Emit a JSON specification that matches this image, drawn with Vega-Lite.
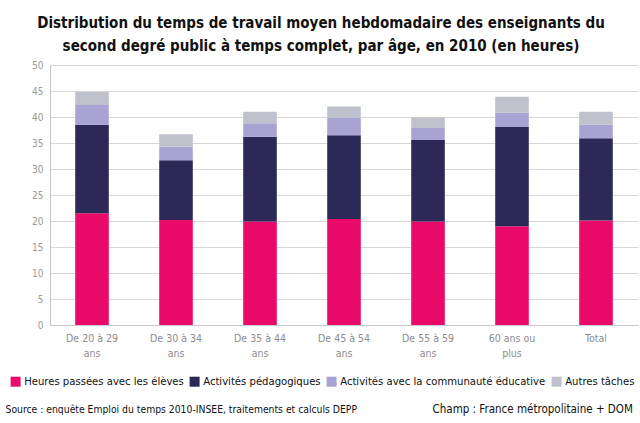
{
  "$schema": "https://vega.github.io/schema/vega-lite/v6.json",
  "autosize": "none",
  "width": 588,
  "height": 260,
  "padding": {"left": 50, "top": 65, "right": 2, "bottom": 98},
  "background": "white",
  "title": {
    "text": ["Distribution du temps de travail moyen hebdomadaire des enseignants du", "second degré public à temps complet, par âge, en 2010 (en heures)"],
    "anchor": "middle",
    "frame": "group",
    "dx": -23,
    "offset": 6,
    "fontSize": 15,
    "font": "DejaVu Sans Condensed, DejaVu Sans, sans-serif",
    "fontWeight": "bold",
    "color": "#111111",
    "lineHeight": 23
  },
  "data": {
    "values": [
      {"age": "De 20 à 29 ans", "activite": "Heures passées avec les élèves", "k": 1, "heures": 21.5},
      {"age": "De 20 à 29 ans", "activite": "Activités pédagogiques", "k": 2, "heures": 17.0},
      {"age": "De 20 à 29 ans", "activite": "Activités avec la communauté éducative", "k": 3, "heures": 3.8},
      {"age": "De 20 à 29 ans", "activite": "Autres tâches", "k": 4, "heures": 2.5},
      {"age": "De 30 à 34 ans", "activite": "Heures passées avec les élèves", "k": 1, "heures": 20.2},
      {"age": "De 30 à 34 ans", "activite": "Activités pédagogiques", "k": 2, "heures": 11.5},
      {"age": "De 30 à 34 ans", "activite": "Activités avec la communauté éducative", "k": 3, "heures": 2.6},
      {"age": "De 30 à 34 ans", "activite": "Autres tâches", "k": 4, "heures": 2.4},
      {"age": "De 35 à 44 ans", "activite": "Heures passées avec les élèves", "k": 1, "heures": 19.9},
      {"age": "De 35 à 44 ans", "activite": "Activités pédagogiques", "k": 2, "heures": 16.3},
      {"age": "De 35 à 44 ans", "activite": "Activités avec la communauté éducative", "k": 3, "heures": 2.6},
      {"age": "De 35 à 44 ans", "activite": "Autres tâches", "k": 4, "heures": 2.2},
      {"age": "De 45 à 54 ans", "activite": "Heures passées avec les élèves", "k": 1, "heures": 20.4},
      {"age": "De 45 à 54 ans", "activite": "Activités pédagogiques", "k": 2, "heures": 16.1},
      {"age": "De 45 à 54 ans", "activite": "Activités avec la communauté éducative", "k": 3, "heures": 3.3},
      {"age": "De 45 à 54 ans", "activite": "Autres tâches", "k": 4, "heures": 2.2},
      {"age": "De 55 à 59 ans", "activite": "Heures passées avec les élèves", "k": 1, "heures": 19.9},
      {"age": "De 55 à 59 ans", "activite": "Activités pédagogiques", "k": 2, "heures": 15.7},
      {"age": "De 55 à 59 ans", "activite": "Activités avec la communauté éducative", "k": 3, "heures": 2.3},
      {"age": "De 55 à 59 ans", "activite": "Autres tâches", "k": 4, "heures": 2.0},
      {"age": "60 ans ou plus", "activite": "Heures passées avec les élèves", "k": 1, "heures": 19.0},
      {"age": "60 ans ou plus", "activite": "Activités pédagogiques", "k": 2, "heures": 19.1},
      {"age": "60 ans ou plus", "activite": "Activités avec la communauté éducative", "k": 3, "heures": 2.7},
      {"age": "60 ans ou plus", "activite": "Autres tâches", "k": 4, "heures": 3.1},
      {"age": "Total", "activite": "Heures passées avec les élèves", "k": 1, "heures": 20.1},
      {"age": "Total", "activite": "Activités pédagogiques", "k": 2, "heures": 15.8},
      {"age": "Total", "activite": "Activités avec la communauté éducative", "k": 3, "heures": 2.6},
      {"age": "Total", "activite": "Autres tâches", "k": 4, "heures": 2.5}
    ]
  },
  "mark": {"type": "bar"},
  "encoding": {
    "x": {
      "field": "age",
      "type": "nominal",
      "sort": null,
      "scale": {"paddingInner": 0.6, "paddingOuter": 0.3},
      "axis": {
        "title": "Source : enquête Emploi du temps 2010-INSEE, traitements et calculs DEPP",
        "titleX": -45,
        "titleY": 84,
        "titleAlign": "left",
        "titleBaseline": "middle",
        "titleFontSize": 10.3,
        "titleFontWeight": "normal",
        "titleColor": "#111111",
        "titleFont": "DejaVu Sans Condensed, DejaVu Sans, sans-serif",
        "labelExpr": "indexof(datum.label, ' ') < 0 ? datum.label : [substring(datum.label, 0, lastindexof(datum.label, ' ')), substring(datum.label, lastindexof(datum.label, ' ') + 1)]",
        "labelAngle": 0,
        "labelColor": "#8c8c8c",
        "labelFontSize": 10.5,
        "labelLineHeight": 15,
        "labelPadding": 8,
        "labelFont": "DejaVu Sans Condensed, DejaVu Sans, sans-serif",
        "ticks": false,
        "domainColor": "#c8c8c8"
      }
    },
    "y": {
      "field": "heures",
      "type": "quantitative",
      "stack": "zero",
      "scale": {"domain": [0, 50], "nice": false},
      "axis": {
        "values": [0, 5, 10, 15, 20, 25, 30, 35, 40, 45, 50],
        "title": "Champ : France métropolitaine + DOM",
        "titleAngle": 0,
        "titleX": 382,
        "titleY": 344,
        "titleAlign": "left",
        "titleBaseline": "middle",
        "titleFontSize": 11.5,
        "titleFontWeight": "normal",
        "titleColor": "#111111",
        "titleFont": "DejaVu Sans Condensed, DejaVu Sans, sans-serif",
        "labelColor": "#999999",
        "labelFontSize": 10,
        "labelFont": "DejaVu Sans Condensed, DejaVu Sans, sans-serif",
        "labelPadding": 7,
        "ticks": false,
        "gridColor": "#d6d6d6",
        "domainColor": "#c8c8c8"
      }
    },
    "color": {
      "field": "activite",
      "type": "nominal",
      "scale": {
        "domain": ["Heures passées avec les élèves", "Activités pédagogiques", "Activités avec la communauté éducative", "Autres tâches"],
        "range": ["#e90a6a", "#2c2958", "#a9a3d3", "#bfc1cc"]
      },
      "legend": {
        "orient": "none",
        "legendX": -40,
        "legendY": 311,
        "direction": "horizontal",
        "title": null,
        "symbolType": "square",
        "symbolSize": 100,
        "symbolStrokeWidth": 0,
        "labelFontSize": 11.2,
        "labelFont": "DejaVu Sans Condensed, DejaVu Sans, sans-serif",
        "labelColor": "#111111",
        "labelOffset": 3,
        "columnPadding": 5,
        "labelLimit": 400
      }
    },
    "order": {"field": "k", "type": "quantitative"}
  },
  "config": {"view": {"stroke": null}}
}
